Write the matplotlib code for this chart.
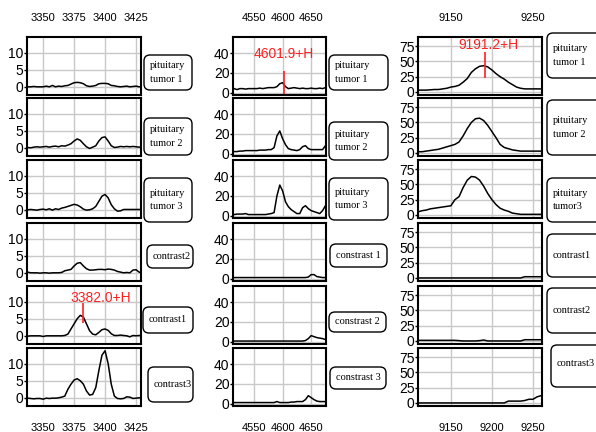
import numpy as np
import matplotlib
matplotlib.use("Agg")
import matplotlib.pyplot as plt
from matplotlib.patches import FancyBboxPatch

# ---- data ----
col1_x = [3335, 3337.5, 3340, 3342.5, 3345, 3347.5, 3350, 3352.5, 3355, 3357.5,
          3360, 3362.5, 3365, 3367.5, 3370, 3372.5, 3375, 3377.5, 3380, 3382.5,
          3385, 3387.5, 3390, 3392.5, 3395, 3397.5, 3400, 3402.5, 3405, 3407.5,
          3410, 3412.5, 3415, 3417.5, 3420, 3422.5, 3425, 3427.5, 3430]
col1_tumor1 = [0.1, 0, 0, 0.1, 0, 0, 0, 0.2, 0, 0.4, 0, 0.2, 0.1, 0.3, 0.4, 0.8, 1.2, 1.3, 1.2, 0.9,
               0.3, 0.1, 0.2, 0.4, 0.9, 1.0, 1.0, 0.9, 0.4, 0.3, 0.1, 0, 0.1, 0.2, 0, 0.1, 0.2, 0, 0]
col1_tumor2 = [0, 0.1, 0, 0.2, 0.3, 0.2, 0.3, 0.4, 0.2, 0.4, 0.5, 0.3, 0.6, 0.5, 0.8, 1.2, 2.0, 2.6, 2.2, 1.2,
               0.3, -0.2, 0.2, 0.6, 2.0, 3.0, 3.2, 2.0, 0.6, 0.1, 0.2, 0.4, 0.3, 0.4, 0.3, 0.4, 0.3, 0.2, 0.3]
col1_tumor3 = [0, 0, 0.1, 0, -0.1, 0.1, 0.2, 0, 0.3, -0.1, 0.3, 0.1, 0.5, 0.7, 1.0, 1.3, 1.6, 1.4, 0.9, 0.2,
               -0.1, 0.0, 0.3, 1.0, 2.5, 4.0, 4.5, 3.5, 1.5, 0.3, -0.4, -0.3, 0.1, 0.1, 0.1, 0.1, 0.1, 0.1, 0.1]
col1_contrast2 = [1.0, 0.2, 0, 0, 0, -0.1, 0, 0, -0.1, 0, 0, 0, 0.1, 0.6, 0.8, 1.0, 2.0, 2.8, 3.0, 2.0,
                  1.2, 0.8, 0.8, 0.9, 1.0, 1.0, 0.9, 1.1, 1.0, 0.8, 0.4, 0.2, 0, 0.1, 0, 0.8, 0.9, 0.2, 0]
col1_contrast1 = [0, -0.1, 0, 0, 0, 0, -0.2, 0, 0, 0, 0, 0, 0, 0.1, 0.5, 2.0, 3.5, 5.0, 6.0, 5.5,
                  3.5, 1.5, 0.5, 0.3, 1.0, 1.8, 2.0, 1.6, 0.6, 0.1, 0.1, 0.2, 0.1, 0, -0.3, 0.1, 0, 0.1, 0]
col1_contrast3 = [-0.3, -0.1, -0.2, -0.3, -0.2, -0.2, -0.4, -0.1, -0.2, -0.1, -0.1, 0, 0.2, 0.5, 2.5, 4.0, 5.2, 5.6, 5.0, 4.0,
                  2.0, 0.8, 1.0, 3.0, 8.0, 12.5, 13.8, 10.0, 4.0, 0.5, -0.2, -0.3, -0.2, 0.3, 0.2, -0.2, -0.1, 0, 0]

col2_x = [4515, 4520, 4525, 4530, 4535, 4540, 4545, 4550, 4555, 4560, 4565, 4570,
          4575, 4580, 4585, 4590, 4595, 4600, 4605, 4610, 4615, 4620, 4625, 4630,
          4635, 4640, 4645, 4650, 4655, 4660, 4665, 4670, 4675]
col2_tumor1 = [4, 3, 4, 4, 3.5, 4, 4, 4, 4, 4.5, 4, 4.5, 5, 5, 5, 6, 9, 10, 6, 4, 4.5, 5, 4.5, 4,
               4.5, 4, 4, 4.5, 4, 4, 4.5, 4, 5]
col2_tumor2 = [2, 2, 2.5, 2.5, 3, 3, 3, 3, 3, 3.5, 3.5, 3.5, 4, 4, 6, 18, 23, 15, 9, 5, 4, 3.5, 3, 4,
               7, 8, 5, 4, 4, 4, 4, 4, 8]
col2_tumor3 = [1, 1.5, 1.5, 1.5, 2, 1, 1, 1, 1, 1, 1, 1, 1.5, 2, 3, 20, 31, 25, 14, 9, 6, 4, 2, 2,
               8, 10, 7, 5, 4, 3, 2, 5, 10]
col2_contrast1 = [1, 1, 1, 1, 1, 1, 1, 1, 1, 1, 1, 1, 1, 1, 1, 1, 1, 1, 1, 1, 1, 1, 1, 1,
                  1, 1, 1.5, 4, 4, 2, 1.5, 1, 1]
col2_contrast2 = [0.5, 0.5, 0.5, 0.5, 0.5, 0.5, 0.5, 0.5, 0.5, 0.5, 0.5, 0.5, 0.5, 0.5, 0.5, 0.5, 0.5, 0.5, 0.5, 0.5,
                  0.5, 0.5, 0.5, 0.5, 0.5, 1, 3, 6, 5, 4, 3.5, 3, 2]
col2_contrast3 = [1, 1, 1, 1, 1, 1, 1, 1, 1, 1, 1, 1, 1, 1, 1, 2, 1, 1, 1, 1, 1.5, 1.5, 2, 2,
                  2, 4, 8, 6, 4, 2.5, 2, 2, 2]

col3_x = [9110, 9115, 9120, 9125, 9130, 9135, 9140, 9145, 9150, 9155, 9160, 9165,
          9170, 9175, 9180, 9185, 9190, 9195, 9200, 9205, 9210, 9215, 9220, 9225,
          9230, 9235, 9240, 9245, 9250, 9255, 9260]
col3_tumor1 = [3, 3, 3, 3.5, 4, 4, 5, 6, 8, 9, 11, 16, 22, 32, 38, 42, 43, 41, 36, 30, 25, 21, 16, 12,
               8, 6, 5, 5, 5, 5, 5]
col3_tumor2 = [2, 2, 3, 4, 5, 6, 8, 10, 12, 14, 18, 28, 40, 50, 56, 57, 53, 45, 35, 25, 14, 9, 7, 5,
               4, 3, 3, 3, 3, 3, 3]
col3_tumor3 = [5, 7, 8, 10, 11, 12, 13, 14, 15, 25, 30, 45, 57, 63, 62, 57, 47, 35, 25, 17, 11, 8, 6, 3,
               2, 1, 1, 1, 1, 1, 1]
col3_contrast1 = [0, 0, 0, 0, 0, 0, 0, 0, 0, 0, 0, 0, 0, 0, 0, 0, 0, 0, 0, 0, 0, 0, 0, 0,
                  0, 0, 2, 2, 2, 2, 2]
col3_contrast2 = [1, 1, 1, 1, 1, 1, 1, 1, 1, 1, 0.5, 0, 0, 0, 0, 0.5, 1.5, 0, 0, 0, 0, 0, 0, 0,
                  0, 0, 2, 2, 2, 2, 2]
col3_contrast3 = [0, 0, 0, 0, 0, 0, 0, 0, 0, 0, 0, 0, 0, 0, 0, 0, 0, 0, 0, 0, 0, 0, 3, 3,
                  3, 3, 4, 6, 6, 10, 12]

col1_labels = ["pituitary\ntumor 1", "pituitary\ntumor 2", "pituitary\ntumor 3",
               "contrast2", "contrast1", "contrast3"]
col2_labels = ["pituitary\ntumor 1", "pituitary\ntumor 2", "pituitary\ntumor 3",
               "constrast 1", "constrast 2", "constrast 3"]
col3_labels = ["pituitary\ntumor 1", "pituitary\ntumor 2", "pituitary\ntumor3",
               "contrast1", "contrast2", "contrast3"]

col1_xticks = [3350, 3375, 3400, 3425]
col2_xticks = [4550, 4600, 4650]
col3_xticks = [9150, 9200, 9250]
col3_top_xticks = [9150, 9250]

# ---- layout (pixel boxes, top-left origin) ----
W, H = 596, 432
panel_tops = [37, 98, 160, 223, 286, 348]
panel_h = 58

def fig_rect(x0, y0, x1, y1):
    return [x0 / W, 1 - y1 / H, (x1 - x0) / W, (y1 - y0) / H]

num_font = ['Liberation Sans Narrow', 'Liberation Sans']

columns = [
    dict(x=col1_x, ys=[col1_tumor1, col1_tumor2, col1_tumor3, col1_contrast2, col1_contrast1, col1_contrast3],
         left=27, right=141, xlim=(3337, 3429), ylim=(-2.4, 14.6), yticks=[0, 5, 10],
         xticks=col1_xticks, top_xticks=col1_xticks, labels=col1_labels,
         boxes=[(144, 55, 192, 90), (144, 118, 192, 155), (144, 178, 192, 222),
                (147, 245, 193, 268), (143, 307, 193, 333), (148, 367, 193, 402)]),
    dict(x=col2_x, ys=[col2_tumor1, col2_tumor2, col2_tumor3, col2_contrast1, col2_contrast2, col2_contrast3],
         left=233, right=326, xlim=(4513, 4676), ylim=(-2.5, 56.5), yticks=[0, 20, 40],
         xticks=col2_xticks, top_xticks=col2_xticks, labels=col2_labels,
         boxes=[(329, 55, 388, 90), (329, 122, 388, 160), (329, 178, 388, 220),
                (330, 244, 387, 267), (329, 312, 386, 332), (330, 367, 386, 389)]),
    dict(x=col3_x, ys=[col3_tumor1, col3_tumor2, col3_tumor3, col3_contrast1, col3_contrast2, col3_contrast3],
         left=418, right=542, xlim=(9110, 9261), ylim=(-5, 90), yticks=[0, 25, 50, 75],
         xticks=col3_xticks, top_xticks=col3_top_xticks, labels=col3_labels,
         boxes=[(547, 33, 612, 78), (547, 100, 612, 155), (547, 178, 612, 222),
                (547, 234, 612, 277), (547, 288, 612, 333), (551, 345, 612, 387)]),
]

fig = plt.figure(figsize=(W / 100, H / 100), dpi=100)
all_axes = []

for c, col in enumerate(columns):
    col_axes = []
    for i in range(6):
        top = panel_tops[i]
        ax = fig.add_axes(fig_rect(col['left'], top, col['right'], top + panel_h))
        ax.plot(col['x'], col['ys'][i], color='black', lw=1.1, zorder=3)
        ax.set_xlim(*col['xlim'])
        ax.set_ylim(*col['ylim'])
        ax.set_xticks(col['xticks'])
        ax.set_yticks(col['yticks'])
        ax.grid(True, color='#c8c8c8', lw=1.0, zorder=0)
        ax.set_axisbelow(True)
        for sp in ax.spines.values():
            sp.set_linewidth(1.5)
            sp.set_color('black')
        ax.tick_params(axis='x', length=0, labelbottom=False, labeltop=False)
        ax.tick_params(axis='y', length=2, width=1, pad=0.5, labelsize=10)
        for lab in ax.get_yticklabels():
            lab.set_family(num_font)
        col_axes.append(ax)

        # label box on the right
        bx0, by0, bx1, by1 = col['boxes'][i]
        r = fig_rect(bx0, by0, bx1, by1)
        patch = FancyBboxPatch((r[0], r[1]), r[2], r[3],
                               boxstyle='round,pad=0,rounding_size=%f' % (6 / W),
                               mutation_aspect=W / H, transform=fig.transFigure,
                               facecolor='white', edgecolor='black', lw=1.0)
        fig.patches.append(patch)
        ty = (by0 + by1) / 2
        if c == 2 and i == 5:
            ty = by0 + 18
        fig.text((bx0 + 6) / W, 1 - ty / H, col['labels'][i], ha='left', va='center',
                 family=['Liberation Serif'], fontsize=7.5, linespacing=1.6)

    # top and bottom tick labels
    top_ax = col_axes[0]
    sec = top_ax.secondary_xaxis('top')
    sec.set_xticks(col['top_xticks'])
    sec.tick_params(length=0, pad=10, labelsize=8)
    sec.spines['top'].set_visible(False)
    for lab in sec.get_xticklabels():
        lab.set_family(num_font)
    bot_ax = col_axes[-1]
    bot_ax.tick_params(axis='x', labelbottom=True, pad=12, labelsize=8)
    for lab in bot_ax.get_xticklabels():
        lab.set_family(num_font)
    all_axes.append(col_axes)

# red peak annotations
red = '#ff2020'
ax = all_axes[0][4]
ax.vlines(3382.0, 3.7, 9.5, color=red, lw=1.2, zorder=4)
ax.text(3396.5, 11.2, "3382.0+H", color=red, ha='center', va='center', fontsize=10, family=num_font)

ax = all_axes[1][0]
ax.vlines(4601.9, -1, 22, color=red, lw=1.2, zorder=4)
ax.text(4601.9, 39, "4601.9+H", color=red, ha='center', va='center', fontsize=10, family=num_font)

ax = all_axes[2][0]
ax.vlines(9191.2, 23, 65, color=red, lw=1.2, zorder=4)
ax.text(9196, 77, "9191.2+H", color=red, ha='center', va='center', fontsize=10, family=num_font)

fig.savefig('out.png', dpi=100)
